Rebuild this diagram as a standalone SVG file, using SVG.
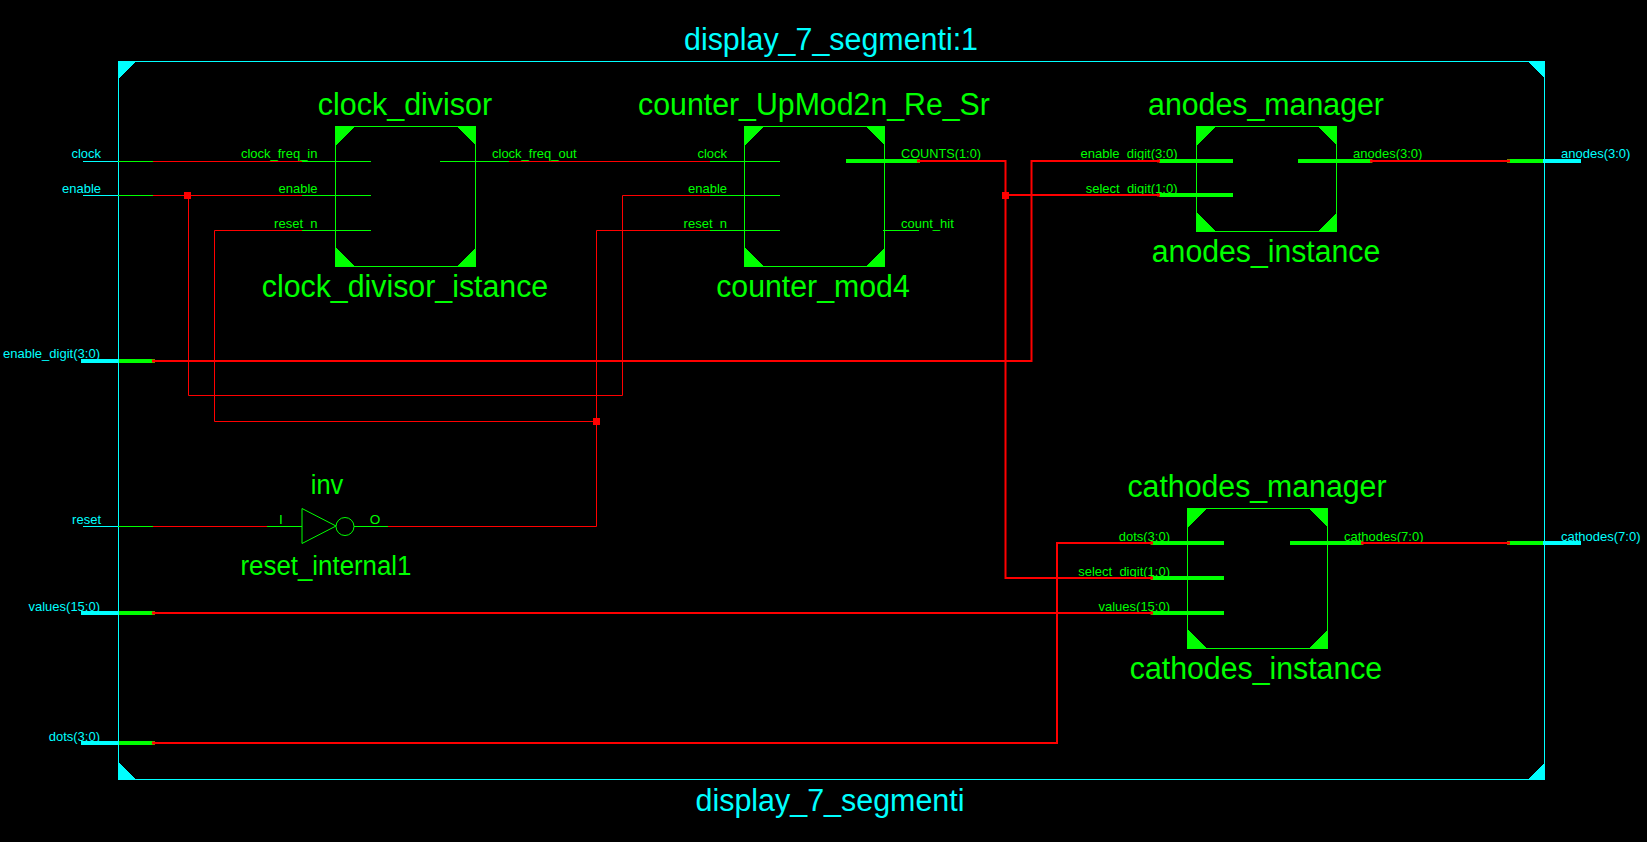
<svg xmlns="http://www.w3.org/2000/svg" width="1647" height="842" viewBox="0 0 1647 842">
<style>
text{font-family:"Liberation Sans",Arial,sans-serif;fill:#0f0}
.b{font-size:31px;text-anchor:middle}
.i{font-size:27px;text-anchor:middle}
.s{font-size:13.500px}
.e{text-anchor:end}
.c{fill:#0ff}
.t{font-size:31px;text-anchor:middle;fill:#0ff}
.g,.r,.y{fill:none}
.g{stroke:#0f0;stroke-width:1}
.r{stroke:#f00;stroke-width:1}
.y{stroke:#0ff;stroke-width:1}
.gb{stroke:#0f0;stroke-width:4;fill:none}
.rb{stroke:#f00;stroke-width:2;fill:none}
.re{stroke:#f00;stroke-width:3;fill:none}
.yb{stroke:#0ff;stroke-width:4;fill:none}
.fg{fill:#0f0;stroke:none;shape-rendering:crispEdges}
.fc{fill:#0ff;stroke:none;shape-rendering:crispEdges}
.fr{fill:#f00;stroke:none}
</style>
<rect width="1647" height="842" fill="#000"/>
<g id="frame">
<rect class="y" x="118.500" y="61.500" width="1426" height="718"/>
<path class="fc" d="M118 61h18l-18 18zM1545 61h-18l18 18zM118 780h18l-18-18zM1545 780h-18l18-18z"/>
<text class="t" x="831" y="50" textLength="294" lengthAdjust="spacingAndGlyphs">display_7_segmenti:1</text>
<text class="t" x="830" y="811" textLength="269" lengthAdjust="spacingAndGlyphs">display_7_segmenti</text>
</g>
<g id="ports">
<path class="y" d="M83 161.500H118M83 195.500H118M83 526.500H118"/>
<path class="yb" d="M81 361H119M81 613H119M81 743H119M1543 161H1581M1543 543H1581"/>
<path class="g" d="M118 161.500H153M118 195.500H153M118 526.500H153"/>
<path class="gb" d="M119 361H155M119 613H155M119 743H155M1507 161H1543M1507 543H1543"/>
<text class="s c e" x="101" y="158" textLength="29.600" lengthAdjust="spacingAndGlyphs">clock</text>
<text class="s c e" x="101" y="193" textLength="39" lengthAdjust="spacingAndGlyphs">enable</text>
<text class="s c e" x="100" y="358" textLength="97" lengthAdjust="spacingAndGlyphs">enable_digit(3:0)</text>
<text class="s c e" x="101" y="524" textLength="28.900" lengthAdjust="spacingAndGlyphs">reset</text>
<text class="s c e" x="100" y="611" textLength="71.500" lengthAdjust="spacingAndGlyphs">values(15:0)</text>
<text class="s c e" x="100" y="741" textLength="51.300" lengthAdjust="spacingAndGlyphs">dots(3:0)</text>
<text class="s c" x="1561" y="158" textLength="69.400" lengthAdjust="spacingAndGlyphs">anodes(3:0)</text>
<text class="s c" x="1561" y="541" textLength="79.500" lengthAdjust="spacingAndGlyphs">cathodes(7:0)</text>
</g>
<g id="clock_divisor_istance">
<rect class="g" x="335.500" y="126.500" width="140" height="140"/>
<path class="fg" d="M335 126h20l-20 20zM476 126h-20l20 20zM335 267h20l-20-20zM476 267h-20l20-20z"/>
<path class="g" d="M302 161.500H371M302 195.500H371M302 230.500H371M440 161.500H509"/>
<text class="b" x="405" y="115" textLength="174.300" lengthAdjust="spacingAndGlyphs">clock_divisor</text>
<text class="b" x="405" y="297" textLength="286.400" lengthAdjust="spacingAndGlyphs">clock_divisor_istance</text>
<text class="s e" x="317.500" y="158" textLength="76.600" lengthAdjust="spacingAndGlyphs">clock_freq_in</text>
<text class="s e" x="317.500" y="193" textLength="39" lengthAdjust="spacingAndGlyphs">enable</text>
<text class="s e" x="317.500" y="228" textLength="43.400" lengthAdjust="spacingAndGlyphs">reset_n</text>
<text class="s" x="492" y="158" textLength="84.500" lengthAdjust="spacingAndGlyphs">clock_freq_out</text>
</g>
<g id="counter_mod4">
<rect class="g" x="744.500" y="126.500" width="140" height="140"/>
<path class="fg" d="M744 126h20l-20 20zM885 126h-20l20 20zM744 267h20l-20-20zM885 267h-20l20-20z"/>
<path class="g" d="M710 161.500H780M710 195.500H780M710 230.500H780M883 230.500H919"/>
<path class="gb" d="M846 161H920"/>
<text class="b" x="814" y="115" textLength="351.800" lengthAdjust="spacingAndGlyphs">counter_UpMod2n_Re_Sr</text>
<text class="b" x="813" y="297" textLength="193.600" lengthAdjust="spacingAndGlyphs">counter_mod4</text>
<text class="s e" x="727" y="158" textLength="29.600" lengthAdjust="spacingAndGlyphs">clock</text>
<text class="s e" x="727" y="193" textLength="39" lengthAdjust="spacingAndGlyphs">enable</text>
<text class="s e" x="727" y="228" textLength="43.400" lengthAdjust="spacingAndGlyphs">reset_n</text>
<text class="s" x="901" y="158" textLength="80" lengthAdjust="spacingAndGlyphs">COUNTS(1:0)</text>
<text class="s" x="901" y="228" textLength="52.800" lengthAdjust="spacingAndGlyphs">count_hit</text>
</g>
<g id="anodes_instance">
<rect class="g" x="1196.500" y="126.500" width="140" height="105"/>
<path class="fg" d="M1196 126h20l-20 20zM1337 126h-20l20 20zM1196 232h20l-20-20zM1337 232h-20l20-20z"/>
<path class="gb" d="M1159 161H1233M1159 195H1233M1298 161H1372"/>
<text class="b" x="1266" y="115" textLength="235.900" lengthAdjust="spacingAndGlyphs">anodes_manager</text>
<text class="b" x="1266" y="262" textLength="228.400" lengthAdjust="spacingAndGlyphs">anodes_instance</text>
<text class="s e" x="1177.500" y="158" textLength="97" lengthAdjust="spacingAndGlyphs">enable_digit(3:0)</text>
<text class="s e" x="1177.500" y="193" textLength="91.800" lengthAdjust="spacingAndGlyphs">select_digit(1:0)</text>
<text class="s" x="1353" y="158" textLength="69.400" lengthAdjust="spacingAndGlyphs">anodes(3:0)</text>
</g>
<g id="reset_internal1">
<path class="g" d="M267 526.500H302M302 508.500V543.500L336 526Z"/>
<circle class="g" cx="345" cy="526.500" r="9"/>
<path class="g" d="M354 526.500H388"/>
<text class="i" x="327" y="494" textLength="32.500" lengthAdjust="spacingAndGlyphs">inv</text>
<text class="i" x="326" y="575" textLength="171" lengthAdjust="spacingAndGlyphs">reset_internal1</text>
<text class="s" x="281" y="524" text-anchor="middle">I</text>
<text class="s" x="375" y="524" text-anchor="middle">O</text>
</g>
<g id="cathodes_instance">
<rect class="g" x="1187.500" y="508.500" width="140" height="140"/>
<path class="fg" d="M1187 508h20l-20 20zM1328 508h-20l20 20zM1187 649h20l-20-20zM1328 649h-20l20-20z"/>
<path class="gb" d="M1151 543H1224M1151 578H1224M1151 613H1224M1290 543H1363"/>
<text class="b" x="1257" y="497" textLength="259" lengthAdjust="spacingAndGlyphs">cathodes_manager</text>
<text class="b" x="1256" y="679" textLength="252.400" lengthAdjust="spacingAndGlyphs">cathodes_instance</text>
<text class="s e" x="1170" y="541" textLength="51.300" lengthAdjust="spacingAndGlyphs">dots(3:0)</text>
<text class="s e" x="1170" y="576" textLength="91.800" lengthAdjust="spacingAndGlyphs">select_digit(1:0)</text>
<text class="s e" x="1170" y="611" textLength="71.500" lengthAdjust="spacingAndGlyphs">values(15:0)</text>
<text class="s" x="1344" y="541" textLength="79.500" lengthAdjust="spacingAndGlyphs">cathodes(7:0)</text>
</g>
<g id="connectors">
<path class="r" d="M153 161.500H302M509 161.500H710M153 195.500H302M188.500 195.500V395.500H622.500V195.500H710M214.500 230.500H302M214.500 230.500V421.500H596.500M596.500 526.500V230.500H710M153 526.500H267M388 526.500H596.500"/>
<path class="rb" d="M152 361H1031.500V161H1160M152 613H1152M152 743H1057V543H1152M917 161H1005.500V578H1152M1005.500 195H1160M1371 161H1509M1362 543H1509"/>
<path class="re" d="M152 361h3M152 613h3M152 743h3M917 161h3M1157 161h3M1157 195h3M1150 543h3M1150 578h3M1150 613h3M1370 161h3M1507 161h3M1361 543h3M1507 543h3"/>
<rect class="fr" x="184" y="192" width="7" height="7"/>
<rect class="fr" x="1002" y="192" width="7" height="7"/>
<rect class="fr" x="593" y="418" width="7" height="7"/>
</g>
</svg>
